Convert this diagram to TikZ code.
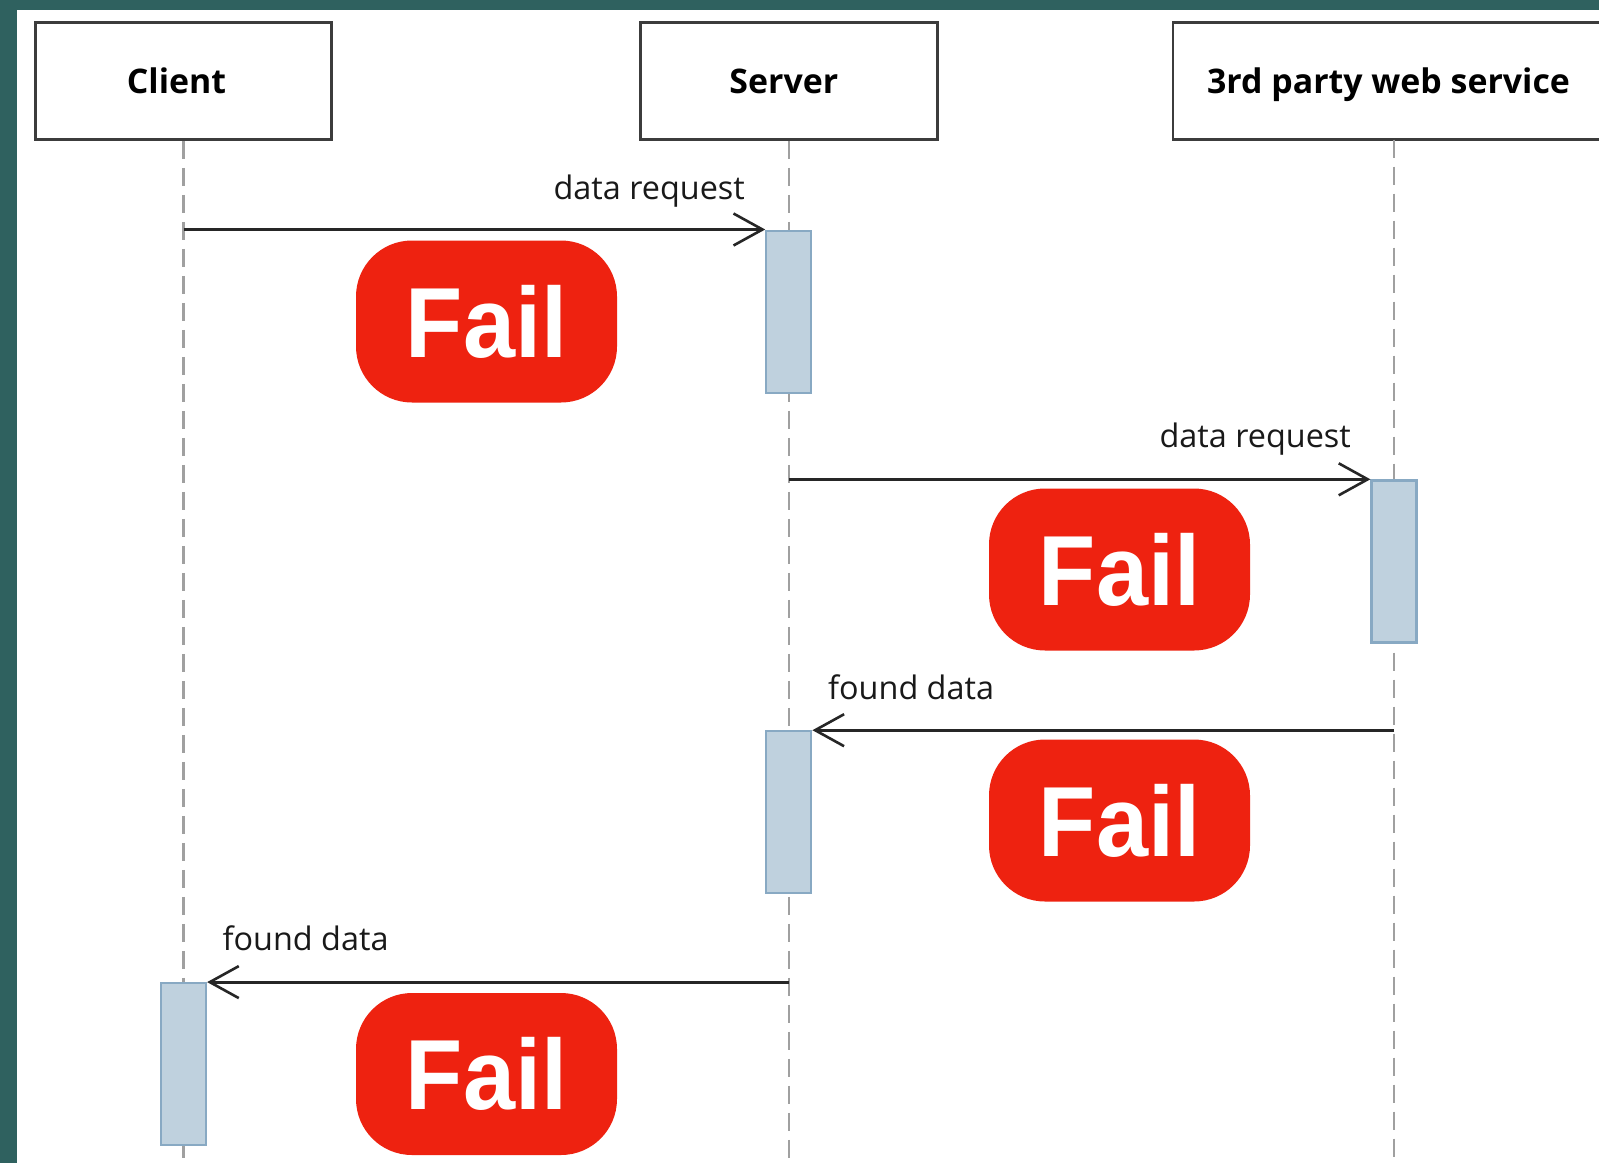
\documentclass[tikz,border=0pt]{standalone}
\usepackage{fontspec}
\setmainfont{Open Sans}
\newfontfamily\badgefont{Liberation Sans}
\usetikzlibrary{arrows.meta}

\definecolor{bandteal}{HTML}{2F615F}
\definecolor{failred}{HTML}{EE2210}
\definecolor{actfill}{HTML}{BFD1DE}
\definecolor{actline}{HTML}{88A9C3}
\definecolor{lifegray}{HTML}{A0A0A0}
\definecolor{boxline}{HTML}{3C3C3C}

\begin{document}
\begin{tikzpicture}[x=1bp,y=-1bp,
  actor/.style={draw=boxline, line width=2.5bp, fill=white, minimum height=117bp,
    inner sep=0, text depth=0pt, font=\bfseries\fontsize{34}{40}\selectfont},
  lifeline/.style={draw=lifegray, line width=2.4bp, dash pattern=on 18bp off 9bp},
  activation/.style={draw=actline, fill=actfill, line width=2.2bp, minimum width=45bp,
    minimum height=162bp, inner sep=0, anchor=north},
  msg/.style={draw=black!85, line width=2.8bp,
    -{Straight Barb[length=29bp, width=32bp, line width=2.6bp]}},
  msglabel/.style={font=\fontsize{32.5}{38}\selectfont, inner sep=0, text=black!90},
  failbadge/.style={fill=failred, rounded corners=56bp, minimum width=261bp,
    minimum height=162bp, inner sep=0, text=white,
    font=\badgefont\bfseries\fontsize{100}{110}\selectfont}
]
% page frame
\clip (0,0) rectangle (1599,1163);
\fill[white] (0,0) rectangle (1599,1163);
\fill[bandteal] (0,0) rectangle (17,1163);
\fill[bandteal] (0,0) rectangle (1599,10);

% participants
\node[actor, minimum width=296bp] (client) at (183.5,81) {\hspace*{-14bp}Client};
\node[actor, minimum width=297bp] (server) at (788.8,81) {\hspace*{-10bp}Server};
\node[actor, minimum width=431bp] (third) at (1388.5,81) {3rd party web service};

% lifelines
\coordinate (clientEnd) at (183.5,1163);
\coordinate (serverEnd) at (788.8,1163);
\coordinate (thirdTop) at (1394,139.7);
\coordinate (thirdEnd) at (1394,1163);
\draw[lifeline] (client.south) -- (clientEnd);
\draw[lifeline] (server.south) -- (serverEnd);
\draw[lifeline] (thirdTop) -- (thirdEnd);

% activation bars
\node[activation] (act1) at (788.8,229.5) {};
\node[activation] (act2) at (1394,479.3) {};
\node[activation] (act3) at (788.8,730.2) {};
\node[activation] (act4) at (183.5,982.1) {};

% messages
\draw[msg] (client.south |- act1.north) -- (act1.north west);
\draw[msg] (server.south |- act2.north) -- (act2.north west);
\draw[msg] (act2.south |- act3.north) -- (act3.north east);
\draw[msg] (server.south |- act4.north) -- (act4.north east);

% message labels
\node[msglabel, anchor=base east] (lbl1) at (745,199) {data request};
\node[msglabel, anchor=base east] (lbl2) at (1351,447.5) {data request};
\node[msglabel, anchor=base west] (lbl3) at (828,699.5) {found data};
\node[msglabel, anchor=base west] (lbl4) at (222.5,950) {found data};

% failure badges
\node[failbadge] (fail1) at (486.5,321.5) {\scalebox{0.94}[1]{Fail}};
\node[failbadge] (fail2) at (1119.5,569.5) {\scalebox{0.94}[1]{Fail}};
\node[failbadge] (fail3) at (1119.5,820.5) {\scalebox{0.94}[1]{Fail}};
\node[failbadge] (fail4) at (486.5,1074) {\scalebox{0.94}[1]{Fail}};
\end{tikzpicture}
\end{document}
